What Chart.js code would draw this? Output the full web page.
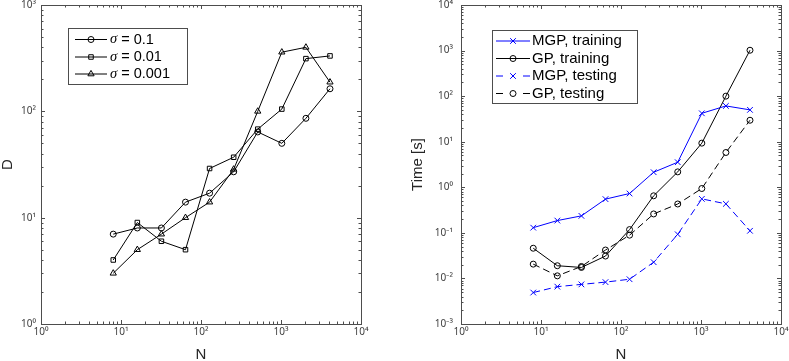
<!DOCTYPE html>
<html>
<head>
<meta charset="utf-8">
<script src="https://cdn.jsdelivr.net/npm/chart.js@4.4.0/dist/chart.umd.min.js"></script>
<style>
    body { margin: 0; background: #fff; }
    #wrap { position: relative; width: 789px; height: 361px; }
    .panel { position: absolute; top: 0; height: 361px; }
</style>
</head>
<body>
<div id="wrap">
    <div class="panel" style="left:0;width:395px"><canvas id="d-chart"></canvas></div>
    <div class="panel" style="left:395px;width:394px"><canvas id="time-chart"></canvas></div>
</div>
<script>
// Problem sizes (shared x values)
const N_VALUES = [8, 16, 32, 64, 128, 256, 512, 1024, 2048, 4096];

// Left panel: D vs N
const D_LABELS = ['σ = 0.1', 'σ = 0.01', 'σ = 0.001'];
const D_SIGMA_1 = [7, 8, 8, 14, 17, 27, 64, 50, 86, 163];
const D_SIGMA_2 = [4, 9, 6, 5, 29, 37, 68, 105, 313, 332];
const D_SIGMA_3 = [3, 5, 7, 10, 14, 28.5, 100, 360, 400, 188];

// Right panel: time vs N
const TIME_LABELS = ['MGP, training', 'GP, training', 'MGP, testing', 'GP, testing'];
const MGP_TRAIN = [0.13, 0.186, 0.236, 0.55, 0.73, 2.14, 3.55, 42, 61, 50];
const GP_TRAIN = [0.046, 0.019, 0.0174, 0.031, 0.118, 0.65, 2.18, 9.3, 100, 1017];
const MGP_TEST = [0.0049, 0.0066, 0.0074, 0.0083, 0.0096, 0.0227, 0.093, 0.557, 0.433, 0.111];
const GP_TEST = [0.0206, 0.0114, 0.0183, 0.042, 0.089, 0.26, 0.43, 0.94, 5.8, 29.6];

// Axis ranges (decade exponents)
const X_DECADES = [0, 4];
const D_DECADES = [0, 3];
const TIME_DECADES = [-3, 4];

const FONT = 'Liberation Sans, Arial, Helvetica, sans-serif';
const TICK_FONT = 'Noto Sans, DejaVu Sans, sans-serif';
const SUP = {'0':'⁰','1':'¹','2':'²','3':'³','4':'⁴','5':'⁵','6':'⁶','7':'⁷','8':'⁸','9':'⁹','-':'⁻'};

const isPow10 = (v) => {
    const e = Math.log10(v);
    return Math.abs(e - Math.round(e)) < 1e-9;
};

const powLabel = (v) => {
    if (!isPow10(v)) return '';
    const e = String(Math.round(Math.log10(v)));
    return '10' + e.split('').map(c => SUP[c]).join('');
};

// ticks at 1..9 of every decade, labels only on the decades
const logTicks = (lo, hi) => (scale) => {
    const ticks = [];
    for (let e = lo; e < hi; e++) {
        for (let k = 1; k <= 9; k++) ticks.push({ value: k * Math.pow(10, e) });
    }
    ticks.push({ value: Math.pow(10, hi) });
    scale.ticks = ticks;
};

const toPoints = (ys) => ys.map((y, i) => ({ x: N_VALUES[i], y }));

// Box around the plot with inward ticks on all four sides
const frameTicks = {
    id: 'frameTicks',
    afterDraw(chart) {
        const { ctx, chartArea: a, scales: { x, y } } = chart;
        ctx.save();
        ctx.strokeStyle = '#4d4d4d';
        ctx.lineWidth = 1;
        ctx.beginPath();
        x.ticks.forEach(t => {
            const px = Math.round(x.getPixelForValue(t.value)) + 0.5;
            const len = isPow10(t.value) ? 4 : 2.5;
            ctx.moveTo(px, a.bottom); ctx.lineTo(px, a.bottom - len);
            ctx.moveTo(px, a.top); ctx.lineTo(px, a.top + len);
        });
        y.ticks.forEach(t => {
            const py = Math.round(y.getPixelForValue(t.value)) + 0.5;
            const len = isPow10(t.value) ? 4 : 2.5;
            ctx.moveTo(a.left, py); ctx.lineTo(a.left + len, py);
            ctx.moveTo(a.right, py); ctx.lineTo(a.right - len, py);
        });
        ctx.stroke();
        ctx.strokeRect(Math.round(a.left) + 0.5, Math.round(a.top) + 0.5,
            Math.round(a.right - a.left), Math.round(a.bottom - a.top));
        ctx.restore();
    }
};

// MATLAB style legend: line sample with marker, drawn inside the axes
const boxLegend = {
    id: 'boxLegend',
    afterDraw(chart, args, opts) {
        const { ctx } = chart;
        ctx.save();
        ctx.fillStyle = '#fff';
        ctx.fillRect(opts.x, opts.y, opts.w, opts.h);
        ctx.strokeStyle = '#4d4d4d';
        ctx.lineWidth = 1;
        ctx.strokeRect(opts.x + 0.5, opts.y + 0.5, opts.w, opts.h);

        chart.data.datasets.forEach((ds, i) => {
            const ry = opts.rows[i];
            const mx = (opts.x0 + opts.x1) / 2;
            ctx.strokeStyle = ds.borderColor;
            ctx.lineWidth = 1;
            ctx.beginPath();
            if (ds.borderDash && ds.borderDash.length) {
                ctx.moveTo(opts.x0, ry); ctx.lineTo(opts.x0 + 7, ry);
                ctx.moveTo(opts.x1 - 7, ry); ctx.lineTo(opts.x1, ry);
            } else {
                ctx.moveTo(opts.x0, ry); ctx.lineTo(opts.x1, ry);
            }
            ctx.stroke();
            ctx.fillStyle = 'rgba(0,0,0,0)';
            Chart.helpers.drawPoint(ctx, {
                pointStyle: ds.pointStyle, radius: ds.pointRadius,
                borderWidth: 1, rotation: 0
            }, mx, ry);

            ctx.fillStyle = '#000';
            ctx.textBaseline = 'middle';
            ctx.textAlign = 'left';
            let tx = opts.textX;
            let label = ds.label;
            if (label.startsWith('σ')) {
                ctx.font = `italic ${opts.size}px Liberation Serif, serif`;
                ctx.fillText('σ', tx, ry);
                tx += ctx.measureText('σ').width;
                label = label.slice(1);
            }
            ctx.font = `${opts.size}px ${FONT}`;
            ctx.fillText(label, tx, ry);
        });
        ctx.restore();
    }
};

const axisTitle = (text, pad) => ({
    display: true,
    text: text,
    color: '#262626',
    font: { family: FONT, size: 15, lineHeight: 1 },
    padding: pad
});

const makeScales = (yDecades, yTitle, yWidth, yTitlePad, yLabelPad) => ({
    x: {
        type: 'logarithmic',
        min: Math.pow(10, X_DECADES[0]),
        max: Math.pow(10, X_DECADES[1]),
        afterBuildTicks: logTicks(X_DECADES[0], X_DECADES[1]),
        afterFit: (s) => { s.height = 37; s.paddingLeft = 0; s.paddingRight = 0; },
        ticks: {
            autoSkip: false, maxRotation: 0, minRotation: 0, padding: 2,
            color: '#404040', font: { family: TICK_FONT, size: 10 },
            callback: powLabel
        },
        grid: { display: false, drawTicks: false },
        border: { display: false },
        title: axisTitle('N', { top: 0, bottom: -1 })
    },
    y: {
        type: 'logarithmic',
        min: Math.pow(10, yDecades[0]),
        max: Math.pow(10, yDecades[1]),
        afterBuildTicks: logTicks(yDecades[0], yDecades[1]),
        afterFit: (s) => { s.width = yWidth; s.paddingTop = 0; s.paddingBottom = 0; },
        ticks: {
            autoSkip: false, padding: yLabelPad,
            color: '#404040', font: { family: TICK_FONT, size: 10 },
            callback: powLabel
        },
        grid: { display: false, drawTicks: false },
        border: { display: false },
        title: axisTitle(yTitle, { top: yTitlePad, bottom: 0 })
    }
});

const lineSet = (label, ys, color, pointStyle, radius, dashed) => ({
    label: label,
    data: toPoints(ys),
    borderColor: color,
    borderWidth: 1,
    borderDash: dashed ? [7, 4] : [],
    pointStyle: pointStyle,
    pointRadius: radius,
    pointBorderColor: color,
    pointBackgroundColor: 'rgba(0,0,0,0)',
    pointBorderWidth: 1,
    tension: 0,
    fill: false
});

const baseOptions = (scales, padRight, legendOpts) => ({
    responsive: true,
    maintainAspectRatio: false,
    animation: false,
    layout: { padding: { left: 0, right: padRight, top: 5, bottom: 0 } },
    scales: scales,
    plugins: {
        legend: { display: false },
        tooltip: { enabled: false },
        boxLegend: legendOpts
    }
});

const initCharts = () => {
    new Chart(document.getElementById('d-chart'), {
        type: 'line',
        data: {
            datasets: [
                lineSet(D_LABELS[0], D_SIGMA_1, '#000', 'circle', 3, false),
                lineSet(D_LABELS[1], D_SIGMA_2, '#000', 'rect', 3.2, false),
                lineSet(D_LABELS[2], D_SIGMA_3, '#000', 'triangle', 3.6, false)
            ]
        },
        options: baseOptions(makeScales(D_DECADES, 'D', 41, 0, 5), 34, {
            x: 68, y: 28, w: 119, h: 56,
            rows: [39.5, 57, 74],
            x0: 75, x1: 107, textX: 110, size: 14.5
        }),
        plugins: [frameTicks, boxLegend]
    });

    new Chart(document.getElementById('time-chart'), {
        type: 'line',
        data: {
            datasets: [
                lineSet(TIME_LABELS[0], MGP_TRAIN, '#0000ff', 'crossRot', 4, false),
                lineSet(TIME_LABELS[1], GP_TRAIN, '#000', 'circle', 3, false),
                lineSet(TIME_LABELS[2], MGP_TEST, '#0000ff', 'crossRot', 4, true),
                lineSet(TIME_LABELS[3], GP_TEST, '#000', 'circle', 3, true)
            ]
        },
        options: baseOptions(makeScales(TIME_DECADES, 'Time [s]', 66, 15.5, 8), 8, {
            x: 97, y: 30, w: 145, h: 73,
            rows: [41, 58.5, 76, 93.5],
            x0: 101, x1: 135, textX: 137, size: 15
        }),
        plugins: [frameTicks, boxLegend]
    });
};

document.addEventListener('DOMContentLoaded', initCharts);
</script>
</body>
</html>
